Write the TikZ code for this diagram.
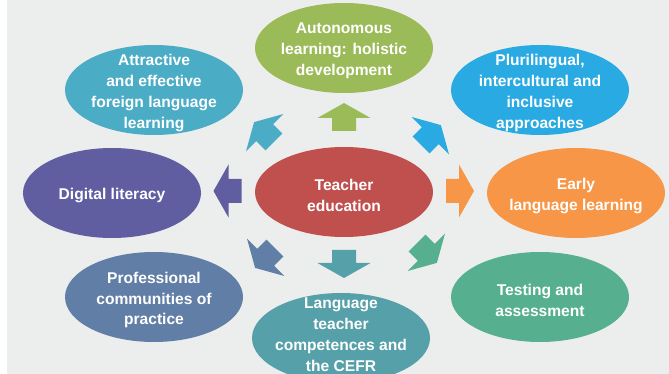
\documentclass[tikz,border=0pt]{standalone}
\usepackage{fontspec}
\setmainfont{Liberation Sans}
\usetikzlibrary{shapes.geometric}

\tikzset{every picture/.style={line width=0.75pt}}
\tikzset{
	bubble/.style={ellipse, minimum width=133.5pt, minimum height=67.5pt, inner sep=0pt, draw=none},
	bubble text/.style={text=white, font=\fontsize{11.7}{15.7}\selectfont\bfseries, align=center, inner sep=0pt, yshift=-2.25pt},
	block arrow/.pic={
		\path[pic actions] (-14,-12) -- (-1,-12) -- (-1,-26.5) -- (14,0) -- (-1,26.5) -- (-1,12) -- (-14,12) -- cycle ;}
}

\begin{document}
\begin{tikzpicture}[x=0.75pt,y=0.75pt,yscale=-1,xscale=1]
	\useasboundingbox (0,0) rectangle (669,374); %set diagram to the size of the reference
	\clip (0,0) rectangle (669,374);

	%Shape: Rectangle [background]
	\fill [fill={rgb, 255:red, 236; green, 238; blue, 237 }] (7,0) rectangle (669,374) ;

	%Shape: Ellipse [teacher education]
	\node [bubble, fill={rgb, 255:red, 192; green, 80; blue, 77 }] (teach) at (344,192) {};
	%Shape: Ellipse [autonomous]
	\node [bubble, fill={rgb, 255:red, 155; green, 187; blue, 89 }] (auton) at (344,48) {};
	%Shape: Ellipse [attractive]
	\node [bubble, fill={rgb, 255:red, 75; green, 172; blue, 198 }] (attract) at (154,90) {};
	%Shape: Ellipse [plurilingual]
	\node [bubble, fill={rgb, 255:red, 42; green, 170; blue, 226 }] (pluri) at (540,90) {};
	%Shape: Ellipse [digital]
	\node [bubble, fill={rgb, 255:red, 96; green, 94; blue, 160 }] (digit) at (112,193) {};
	%Shape: Ellipse [early]
	\node [bubble, fill={rgb, 255:red, 247; green, 150; blue, 70 }] (early) at (576,193) {};
	%Shape: Ellipse [professional]
	\node [bubble, fill={rgb, 255:red, 96; green, 126; blue, 166 }] (prof) at (154,297) {};
	%Shape: Ellipse [testing]
	\node [bubble, fill={rgb, 255:red, 86; green, 176; blue, 143 }] (test) at (540,297) {};
	%Shape: Ellipse [competences]
	\node [bubble, fill={rgb, 255:red, 86; green, 161; blue, 169 }] (compet) at (341,338) {};

	%Block Arrows
	\pic [rotate=90, fill={rgb, 255:red, 155; green, 187; blue, 89 }] (ar-auton) at (344,117) {block arrow};
	\pic [rotate=-90, fill={rgb, 255:red, 86; green, 161; blue, 169 }] (ar-compet) at (344,264) {block arrow};
	\pic [rotate=180, fill={rgb, 255:red, 96; green, 94; blue, 160 }] (ar-digit) at (227.5,191) {block arrow};
	\pic [rotate=0, fill={rgb, 255:red, 247; green, 150; blue, 70 }] (ar-early) at (460,191) {block arrow};
	\pic [rotate=135, fill={rgb, 255:red, 75; green, 172; blue, 198 }] (ar-attract) at (264,132) {block arrow};
	\pic [rotate=45, fill={rgb, 255:red, 42; green, 170; blue, 226 }] (ar-pluri) at (431,135) {block arrow};
	\pic [rotate=-135, fill={rgb, 255:red, 96; green, 126; blue, 166 }] (ar-prof) at (265,258) {block arrow};
	\pic [rotate=-45, fill={rgb, 255:red, 86; green, 176; blue, 143 }] (ar-test) at (427,253) {block arrow};

	% Text Node
	\node [bubble text] (teach-t) at (teach) {Teacher\\education};
	% Text Node
	\node [bubble text] (auton-t) at (auton) {Autonomous\\learning: holistic\\development};
	% Text Node
	\node [bubble text] (attract-t) at (attract) {Attractive\\and effective\\foreign language\\learning};
	% Text Node
	\node [bubble text] (pluri-t) at (pluri) {Plurilingual,\\intercultural and\\inclusive\\approaches};
	% Text Node
	\node [bubble text] (digit-t) at (digit) {Digital literacy};
	% Text Node
	\node [bubble text] (early-t) at (early) {Early\\language learning};
	% Text Node
	\node [bubble text] (prof-t) at (prof) {Professional\\communities of\\practice};
	% Text Node
	\node [bubble text] (test-t) at (test) {Testing and\\assessment};
	% Text Node
	\node [bubble text] (compet-t) at (341,332) {Language\\teacher\\competences and\\the CEFR};

\end{tikzpicture}
\end{document}
